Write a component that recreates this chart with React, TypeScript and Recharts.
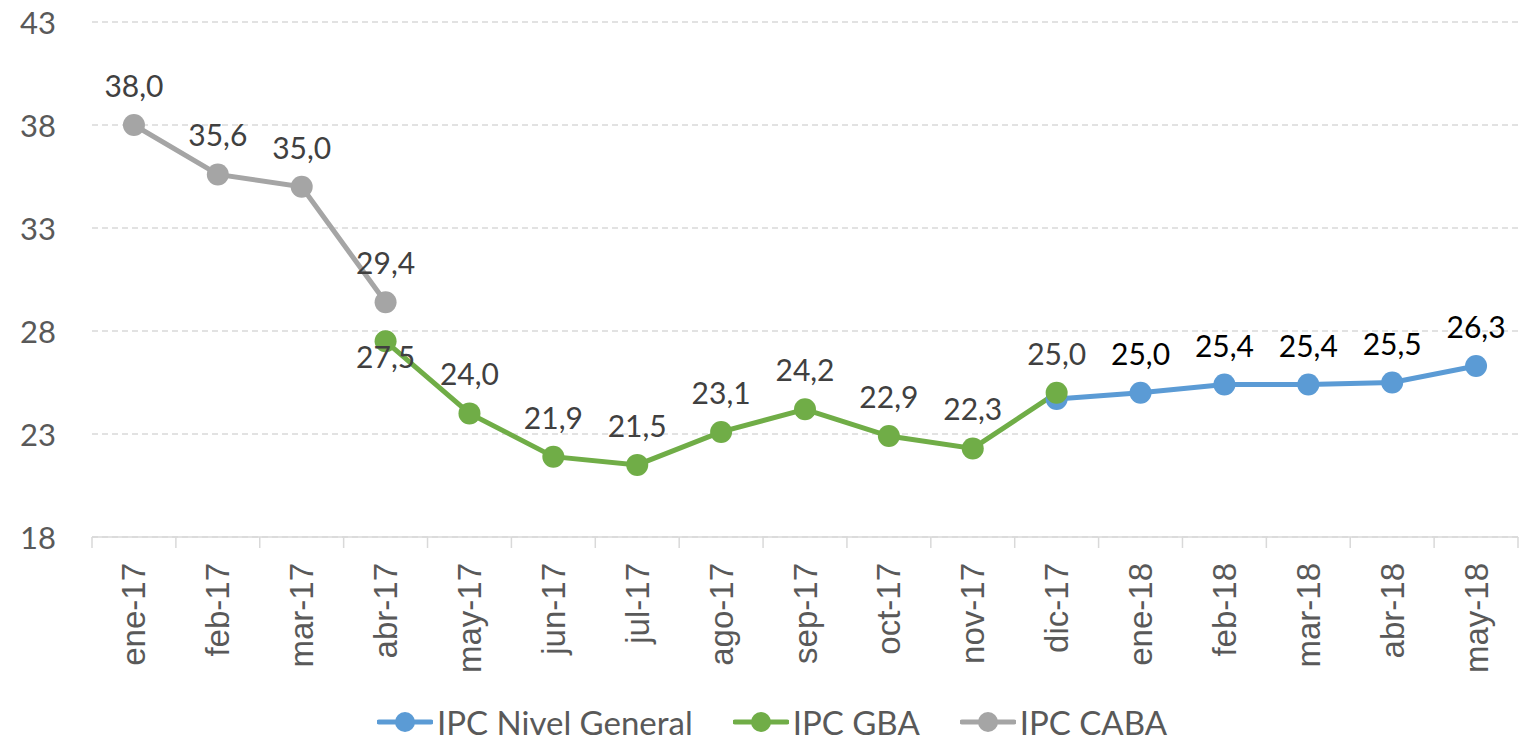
import React from 'react';
import { LineChart, Line, XAxis, YAxis, CartesianGrid, Legend, LabelList } from 'recharts';

const months = [
  'ene-17', 'feb-17', 'mar-17', 'abr-17', 'may-17', 'jun-17', 'jul-17', 'ago-17', 'sep-17',
  'oct-17', 'nov-17', 'dic-17', 'ene-18', 'feb-18', 'mar-18', 'abr-18', 'may-18',
];
const nivelGeneral = [null, null, null, null, null, null, null, null, null, null, null, 24.7, 25.0, 25.4, 25.4, 25.5, 26.3];
const gba = [null, null, null, 27.5, 24.0, 21.9, 21.5, 23.1, 24.2, 22.9, 22.3, 25.0, null, null, null, null, null];
const caba = [38.0, 35.6, 35.0, 29.4, null, null, null, null, null, null, null, null, null, null, null, null, null];
const yTicks = [18, 23, 28, 33, 38, 43];
// months where the GBA label sits under the point instead of above
const labelBelow = ['abr-17'];
// months where the Nivel General label is hidden (overlaps GBA)
const hideNivelLabel = ['dic-17'];

const series = [
  { key: 'nivel', name: 'IPC Nivel General', color: '#5b9bd5', labelColor: '#000000' },
  { key: 'gba', name: 'IPC GBA', color: '#70ad47', labelColor: '#404040' },
  { key: 'caba', name: 'IPC CABA', color: '#a5a5a5', labelColor: '#404040' },
];

const data = months.map((m, i) => ({ month: m, nivel: nivelGeneral[i], gba: gba[i], caba: caba[i] }));

const CAL = 'Lato, "Open Sans", sans-serif';
const PLOT_W = 1426;
const HALF_BAND = PLOT_W / months.length / 2;

const fmt = (v: number) => v.toFixed(1).replace('.', ',');

const XTick = (props: any) => {
  const { x, y, payload, index } = props;
  return (
    <g transform={`translate(${x},${y})`}>
      <line x1={-HALF_BAND} y1={0} x2={-HALF_BAND} y2={11} stroke="#d9d9d9" strokeWidth={1.5} />
      {index === months.length - 1 && (
        <line x1={HALF_BAND} y1={0} x2={HALF_BAND} y2={11} stroke="#d9d9d9" strokeWidth={1.5} />
      )}
      <text
        transform="translate(0,26) rotate(-90)"
        textAnchor="end"
        dominantBaseline="central"
        fill="#595959"
        fontSize={33}
        fontFamily='"Liberation Sans", Arial, sans-serif'
      >
        {payload.value}
      </text>
    </g>
  );
};

const YTick = (props: any) => {
  const { y, payload } = props;
  return (
    <text x={56} y={y} textAnchor="end" dominantBaseline="central" fill="#595959" fontSize={31} fontFamily={CAL}>
      {payload.value}
    </text>
  );
};

const makeLabel = (key: string, color: string, hidden: string[]) => (props: any) => {
  const { x, y, value, index } = props;
  if (value == null) return null;
  const m = months[index];
  if (hidden.includes(m)) return null;
  const below = key === 'gba' && labelBelow.includes(m);
  return (
    <text
      x={x}
      y={below ? y + 15 : y - 40}
      textAnchor="middle"
      dominantBaseline="central"
      fill={color}
      fontSize={30}
      fontFamily={CAL}
    >
      {fmt(value)}
    </text>
  );
};

const LegendContent = () => (
  <div style={{ display: 'flex', justifyContent: 'center', alignItems: 'center', height: 40, paddingTop: 6, paddingLeft: 26, boxSizing: 'border-box' }}>
    {series.map((s, i) => (
      <div key={s.key} style={{ display: 'flex', alignItems: 'center', marginRight: i < series.length - 1 ? 40 : 0 }}>
        <svg width={56} height={24}>
          <line x1={2} y1={12} x2={54} y2={12} stroke={s.color} strokeWidth={5} strokeLinecap="round" />
          <circle cx={28} cy={12} r={10} fill={s.color} />
        </svg>
        <span style={{ fontFamily: CAL, fontSize: 33, color: '#595959', marginLeft: 4, lineHeight: 1 }}>{s.name}</span>
      </div>
    ))}
  </div>
);

export default function App() {
  return (
    <div style={{ width: 1529, height: 739, background: '#fff' }}>
      <style>{'body{margin:0;}'}</style>
      <LineChart width={1529} height={739} data={data} margin={{ top: 22, right: 11, left: 0, bottom: 0 }}>
        <CartesianGrid vertical={false} stroke="#d9d9d9" strokeDasharray="6 4" strokeWidth={1.5} />
        <XAxis
          dataKey="month"
          scale="band"
          interval={0}
          height={162}
          tickSize={0}
          tickMargin={0}
          tickLine={false}
          axisLine={{ stroke: '#d9d9d9', strokeWidth: 1.5 }}
          tick={<XTick />}
        />
        <YAxis
          width={92}
          domain={[18, 43]}
          ticks={yTicks}
          axisLine={false}
          tickLine={false}
          tick={<YTick />}
        />
        <Legend verticalAlign="bottom" content={<LegendContent />} />
        {series.map((s) => (
          <Line
            key={s.key}
            dataKey={s.key}
            name={s.name}
            stroke={s.color}
            strokeWidth={5}
            dot={{ r: 11, fill: s.color, stroke: 'none' }}
            activeDot={false}
            isAnimationActive={false}
          >
            <LabelList
              dataKey={s.key}
              content={makeLabel(s.key, s.labelColor, s.key === 'nivel' ? hideNivelLabel : [])}
            />
          </Line>
        ))}
      </LineChart>
    </div>
  );
}
